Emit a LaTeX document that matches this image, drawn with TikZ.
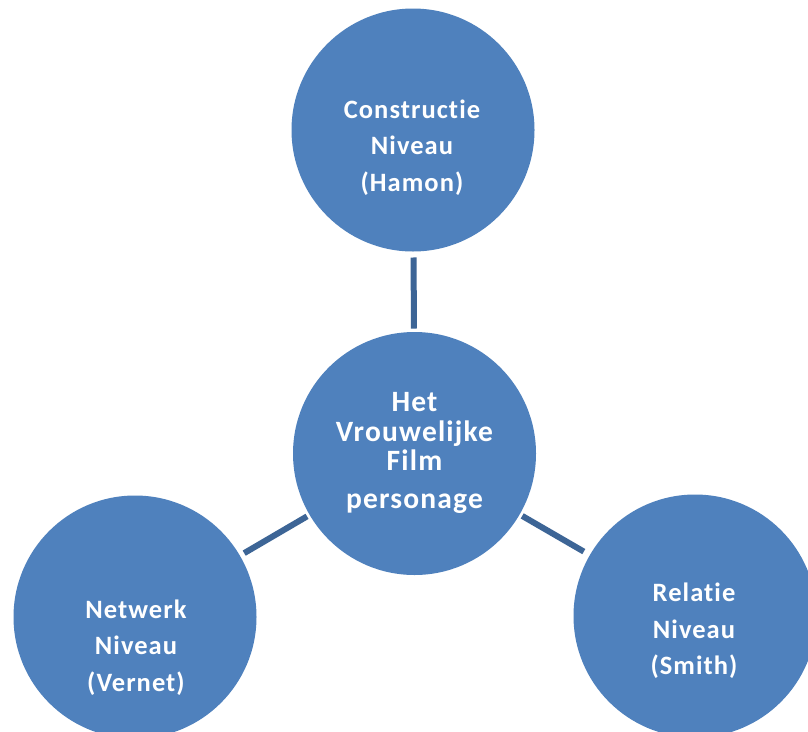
\documentclass[tikz,border=0pt]{standalone}
\usepackage{fontspec}
\newfontfamily\labfont[LetterSpace=4,Ligatures={NoCommon,NoRequired,NoContextual}]{Carlito}
\definecolor{circblue}{HTML}{4F81BD}
\definecolor{linkblue}{HTML}{3D6596}
\begin{document}
\begin{tikzpicture}[x=1pt,y=-1pt,
  circ/.style={circle,fill=circblue,draw=none,minimum size=243pt,inner sep=0pt,outer sep=0pt},
  outertxt/.style={text=white,align=center,inner sep=0pt,font=\labfont\bfseries\fontsize{26.5}{36.5}\selectfont},
  centertxt/.style={text=white,align=center,inner sep=0pt,font=\labfont\bfseries\fontsize{29.5}{29.7}\selectfont},
  link/.style={draw=linkblue,line width=6pt}]
\useasboundingbox[fill=white] (0,0) rectangle (808,731);
\node[circ] (top) at (413,130) {};
\node[circ] (mid) at (414.5,453.5) {};
\node[circ] (bl) at (135,617) {};
\node[circ] (br) at (695,616) {};
\draw[link,shorten <=6pt,shorten >=3.5pt] (top) -- (mid);
\draw[link,shorten <=5pt,shorten >=3pt] (bl) -- (mid);
\draw[link,shorten <=7pt,shorten >=3pt] (br) -- (mid);
\node[outertxt] (toptext) at (412,147.5) {Constructie\\Niveau\\(Hamon)};
\node[centertxt] (midtext) at (414.5,453) {Het\\Vrouwelijke\\Film\\[8pt]personage};
\node[outertxt] (bltext) at (136,647.5) {Netwerk\\Niveau\\(Vernet)};
\node[outertxt] (brtext) at (694,631) {Relatie\\Niveau\\(Smith)};
\end{tikzpicture}
\end{document}
